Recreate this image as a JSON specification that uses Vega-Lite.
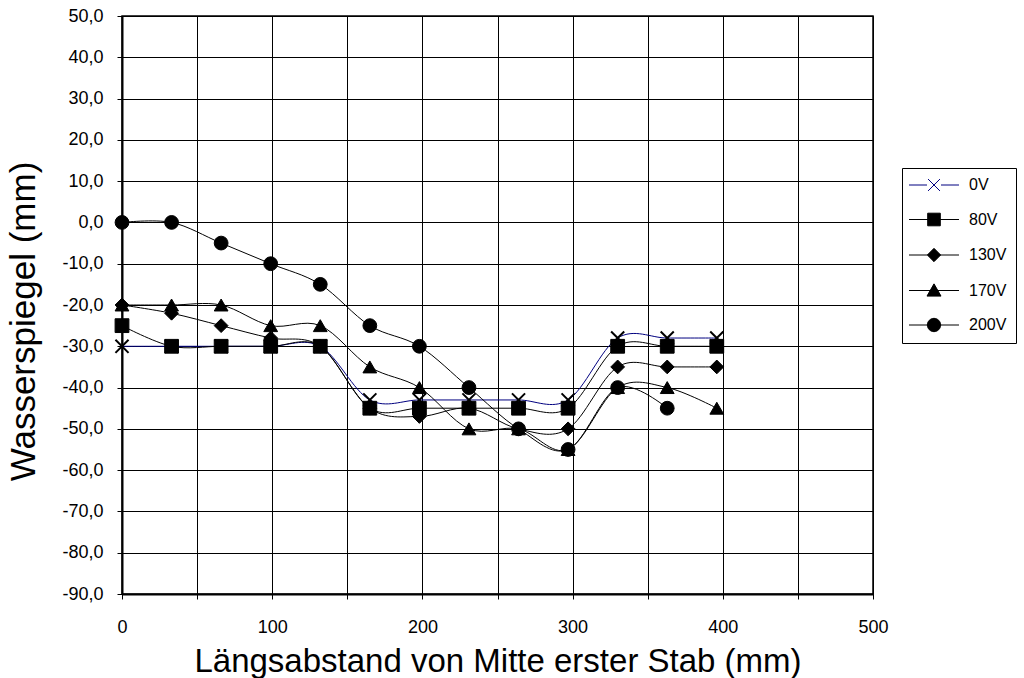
{
  "$schema": "https://vega.github.io/schema/vega-lite/v6.json",
  "autosize": "none",
  "padding": {"left": 122, "top": 16, "right": 151, "bottom": 84},
  "width": 751,
  "height": 578,
  "background": "white",
  "config": {
    "font": "Liberation Sans",
    "view": {"stroke": "black", "strokeWidth": 1.5},
    "axis": {
      "gridColor": "black", "gridOpacity": 1, "gridWidth": 1,
      "domainColor": "black", "domainWidth": 2,
      "tickColor": "black", "tickSize": 5, "tickWidth": 1,
      "labelColor": "black", "labelFontSize": 18, "labelFont": "Liberation Sans",
      "titleColor": "black", "titleFontWeight": "normal", "titleFont": "Liberation Sans"
    }
  },
  "data": {"values": [
    {"x": 0, "v": -30, "series": "0V"}, {"x": 33, "v": -30, "series": "0V"}, {"x": 66, "v": -30, "series": "0V"}, {"x": 99, "v": -30, "series": "0V"}, {"x": 132, "v": -30, "series": "0V"}, {"x": 165, "v": -43, "series": "0V"}, {"x": 198, "v": -43, "series": "0V"}, {"x": 231, "v": -43, "series": "0V"}, {"x": 264, "v": -43, "series": "0V"}, {"x": 297, "v": -43, "series": "0V"}, {"x": 330, "v": -28, "series": "0V"}, {"x": 363, "v": -28, "series": "0V"}, {"x": 396, "v": -28, "series": "0V"},
    {"x": 0, "v": -25, "series": "80V"}, {"x": 33, "v": -30, "series": "80V"}, {"x": 66, "v": -30, "series": "80V"}, {"x": 99, "v": -30, "series": "80V"}, {"x": 132, "v": -30, "series": "80V"}, {"x": 165, "v": -45, "series": "80V"}, {"x": 198, "v": -45, "series": "80V"}, {"x": 231, "v": -45, "series": "80V"}, {"x": 264, "v": -45, "series": "80V"}, {"x": 297, "v": -45, "series": "80V"}, {"x": 330, "v": -30, "series": "80V"}, {"x": 363, "v": -30, "series": "80V"}, {"x": 396, "v": -30, "series": "80V"},
    {"x": 0, "v": -20, "series": "130V"}, {"x": 33, "v": -22, "series": "130V"}, {"x": 66, "v": -25, "series": "130V"}, {"x": 99, "v": -28, "series": "130V"}, {"x": 132, "v": -30, "series": "130V"}, {"x": 165, "v": -45, "series": "130V"}, {"x": 198, "v": -47, "series": "130V"}, {"x": 231, "v": -45, "series": "130V"}, {"x": 264, "v": -50, "series": "130V"}, {"x": 297, "v": -50, "series": "130V"}, {"x": 330, "v": -35, "series": "130V"}, {"x": 363, "v": -35, "series": "130V"}, {"x": 396, "v": -35, "series": "130V"},
    {"x": 0, "v": -20, "series": "170V"}, {"x": 33, "v": -20, "series": "170V"}, {"x": 66, "v": -20, "series": "170V"}, {"x": 99, "v": -25, "series": "170V"}, {"x": 132, "v": -25, "series": "170V"}, {"x": 165, "v": -35, "series": "170V"}, {"x": 198, "v": -40, "series": "170V"}, {"x": 231, "v": -50, "series": "170V"}, {"x": 264, "v": -50, "series": "170V"}, {"x": 297, "v": -55, "series": "170V"}, {"x": 330, "v": -40, "series": "170V"}, {"x": 363, "v": -40, "series": "170V"}, {"x": 396, "v": -45, "series": "170V"},
    {"x": 0, "v": 0, "series": "200V"}, {"x": 33, "v": 0, "series": "200V"}, {"x": 66, "v": -5, "series": "200V"}, {"x": 99, "v": -10, "series": "200V"}, {"x": 132, "v": -15, "series": "200V"}, {"x": 165, "v": -25, "series": "200V"}, {"x": 198, "v": -30, "series": "200V"}, {"x": 231, "v": -40, "series": "200V"}, {"x": 264, "v": -50, "series": "200V"}, {"x": 297, "v": -55, "series": "200V"}, {"x": 330, "v": -40, "series": "200V"}, {"x": 363, "v": -45, "series": "200V"}
  ]},
  "encoding": {
    "x": {
      "field": "x", "type": "quantitative",
      "scale": {"domain": [0, 500], "nice": false, "zero": false},
      "axis": {
        "values": [0, 50, 100, 150, 200, 250, 300, 350, 400, 450, 500],
        "labelExpr": "datum.value % 100 === 0 ? datum.label : ''",
        "labelFlush": false,
        "labelPadding": 19,
        "title": "Längsabstand von Mitte erster Stab (mm)",
        "titleFontSize": 33,
        "titlePadding": 9,
        "encode": {"ticks": {"update": {"opacity": {"signal": "datum.value % 100 === 0 ? 1 : 0"}}}}
      }
    },
    "y": {
      "field": "v", "type": "quantitative",
      "scale": {"domain": [-90, 50], "nice": false, "zero": false},
      "axis": {
        "values": [-90, -80, -70, -60, -50, -40, -30, -20, -10, 0, 10, 20, 30, 40, 50],
        "labelExpr": "(datum.value < 0 ? '-' : '') + replace(format(abs(datum.value), '.1f'), '.', ',')",
        "labelPadding": 14,
        "labelFlush": false,
        "title": "Wasserspiegel (mm)",
        "titleFontSize": 35,
        "titleY": 305,
        "titlePadding": 20
      }
    }
  },
  "layer": [
    {
      "mark": {"type": "line", "interpolate": "cardinal", "strokeWidth": 1},
      "encoding": {
        "color": {
          "field": "series", "type": "nominal",
          "scale": {"domain": ["0V", "80V", "130V", "170V", "200V"], "range": ["#000080", "black", "black", "black", "black"]},
          "legend": {
            "title": null,
            "orient": "none",
            "legendX": 780,
            "legendY": 152,
            "padding": 9,
            "symbolSize": 196,
            "symbolOffset": 15,
            "labelOffset": 27,
            "labelFontSize": 16,
            "labelFont": "Liberation Sans",
            "labelColor": "black",
            "rowPadding": 17.5,
            "strokeColor": "black",
            "fillColor": "white",
            "encode": {
              "symbols": {
                "update": {
                  "shape": {"signal": "datum.value === '0V' ? 'M-3.57,0H-1M1,0H3.57M-0.85,-0.85L0.85,0.85M-0.85,0.85L0.85,-0.85' : datum.value === '80V' ? 'M-3.57,0H3.57M-0.9,-0.9H0.9V0.9H-0.9Z' : datum.value === '130V' ? 'M-3.57,0H3.57M-0.95,0L0,-0.95L0.95,0L0,0.95Z' : datum.value === '170V' ? 'M-3.57,0H3.57M-1,0.8L0,-0.95L1,0.8Z' : 'M-3.57,0H3.57M-0.95,0A0.95,0.95,0,1,0,0.95,0A0.95,0.95,0,1,0,-0.95,0Z'"},
                  "fill": {"signal": "datum.value === '0V' ? 'transparent' : 'black'"},
                  "stroke": {"signal": "datum.value === '0V' ? '#000080' : 'black'"},
                  "strokeWidth": {"value": 1},
                  "opacity": {"value": 1}
                }
              }
            }
          }
        }
      }
    },
    {
      "mark": {"type": "point", "filled": true, "fill": "black", "stroke": "black", "opacity": 1, "size": 190},
      "encoding": {
        "shape": {
          "condition": [
            {"test": "datum.series === '0V'", "value": "M-0.95,-0.95L0.95,0.95M-0.95,0.95L0.95,-0.95"},
            {"test": "datum.series === '80V'", "value": "square"},
            {"test": "datum.series === '130V'", "value": "diamond"},
            {"test": "datum.series === '170V'", "value": "triangle-up"}
          ],
          "value": "circle"
        },
        "strokeWidth": {"condition": {"test": "datum.series === '0V'", "value": 2}, "value": 1}
      }
    }
  ]
}
